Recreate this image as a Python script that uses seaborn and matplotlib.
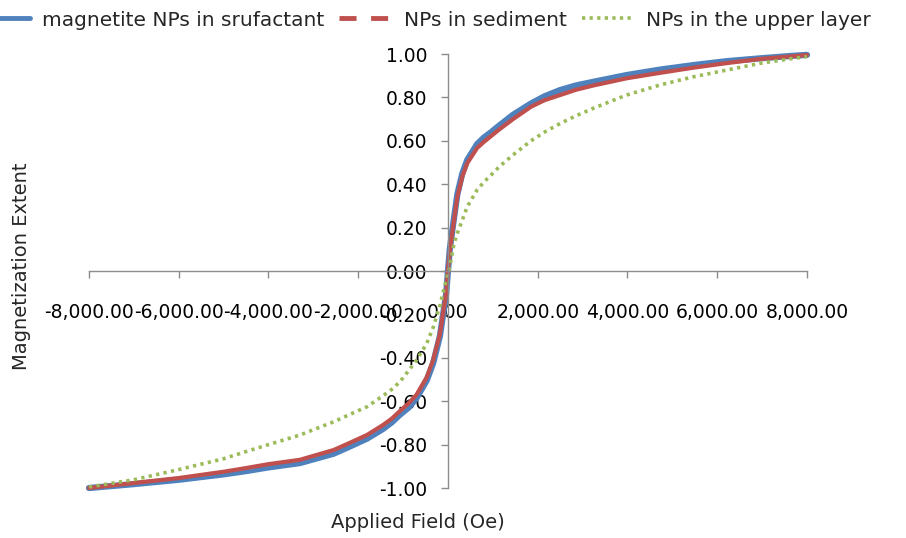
import matplotlib
matplotlib.use("Agg")
import matplotlib.pyplot as plt
import seaborn as sns
from matplotlib.lines import Line2D
from matplotlib.ticker import FuncFormatter, MultipleLocator

# applied field (Oe), shared by the three curves
field = [-8000, -7000, -6000, -5000, -4500, -4000, -3300, -2550, -2200, -1800,
         -1450, -1250, -1070, -880, -700, -475, -330, -180, -40, 0,
         40, 135, 210, 320, 430, 650, 800, 950, 1140, 1450,
         1850, 2150, 2500, 2850, 3240, 3980, 4720, 5470, 6210, 6950,
         7700, 8000]

m_surfactant = [-1.0, -0.982, -0.962, -0.937, -0.922, -0.905, -0.885, -0.842, -0.81, -0.772,
                -0.728, -0.697, -0.662, -0.63, -0.585, -0.505, -0.425, -0.30, -0.105, 0.0,
                0.10, 0.245, 0.355, 0.45, 0.512, 0.585, 0.615, 0.638, 0.67, 0.72,
                0.772, 0.805, 0.834, 0.855, 0.872, 0.903, 0.928, 0.949, 0.967, 0.98,
                0.992, 0.996]

m_sediment = [-1.0, -0.977, -0.954, -0.925, -0.908, -0.89, -0.87, -0.825, -0.793, -0.755,
              -0.71, -0.68, -0.645, -0.61, -0.57, -0.49, -0.41, -0.29, -0.10, 0.0,
              0.09, 0.235, 0.343, 0.436, 0.497, 0.567, 0.595, 0.62, 0.652, 0.70,
              0.757, 0.787, 0.811, 0.835, 0.855, 0.888, 0.913, 0.937, 0.958, 0.977,
              0.99, 0.995]

m_upper = [-0.995, -0.962, -0.915, -0.865, -0.832, -0.80, -0.756, -0.695, -0.662, -0.625,
           -0.575, -0.545, -0.51, -0.46, -0.41, -0.335, -0.26, -0.16, -0.04, -0.015,
           0.02, 0.127, 0.175, 0.235, 0.297, 0.374, 0.41, 0.44, 0.48, 0.535,
           0.60, 0.64, 0.68, 0.715, 0.75, 0.811, 0.857, 0.895, 0.926, 0.957,
           0.98, 0.988]

labels = ["magnetite NPs in srufactant", "NPs in sediment", "NPs in the upper layer"]
colors = ["#4F81BD", "#C0504D", "#9BBB59"]

sns.set_style("white")
plt.rcParams["font.family"] = ["DejaVu Sans"]

fig = plt.figure(figsize=(9.06, 5.38), dpi=100)
ax = fig.add_axes([0.0982, 0.0929, 0.7925, 0.8067])

sns.lineplot(x=field, y=m_surfactant, ax=ax, color=colors[0], lw=4.5, sort=False, legend=False)
sns.lineplot(x=field, y=m_sediment, ax=ax, color=colors[1], lw=3.0, sort=False, legend=False)
sns.lineplot(x=field, y=m_upper, ax=ax, color=colors[2], lw=2.6, sort=False, legend=False)
ax.lines[2].set_dashes((0.9, 1.2))
for ln in ax.lines:
    ln.set_clip_on(False)

ax.set_xlim(-8000, 8000)
ax.set_ylim(-1, 1)
ax.xaxis.set_major_locator(MultipleLocator(2000))
ax.yaxis.set_major_locator(MultipleLocator(0.2))
ax.xaxis.set_major_formatter(FuncFormatter(lambda v, p: f"{v:,.2f}"))
ax.yaxis.set_major_formatter(FuncFormatter(lambda v, p: f"{v:.2f}"))

grey = "#8C8C8C"
ax.spines["left"].set_position(("data", 0))
ax.spines["bottom"].set_position(("data", 0))
ax.spines["top"].set_visible(False)
ax.spines["right"].set_visible(False)
for s in ["left", "bottom"]:
    ax.spines[s].set_color(grey)
    ax.spines[s].set_linewidth(1.0)
ax.tick_params(axis="x", bottom=True, direction="out", length=5, width=1, color=grey,
               pad=18, labelsize=13.5, labelcolor="black")
ax.tick_params(axis="y", left=True, direction="out", length=5, width=1, color=grey,
               pad=10, labelsize=13.5, labelcolor="black")
ax.set_xlabel("")
ax.set_ylabel("")

fig.text(22 / 906, 1 - 266 / 538, "Magnetization Extent", rotation=90, ha="center", va="center", fontsize=14)
fig.text(418 / 906, 1 - 522 / 538, "Applied Field (Oe)", ha="center", va="center", fontsize=14)

handles = [
    Line2D([], [], color=colors[0], lw=3.5),
    Line2D([], [], color=colors[1], lw=3.5, dashes=(3.5, 3)),
    Line2D([], [], color=colors[2], lw=2.6, dashes=(0.9, 1.2)),
]
fig.legend(handles, labels, loc="center left", bbox_to_anchor=(-0.045, 1 - 20 / 538), ncol=3,
           frameon=False, fontsize=14.5, handlelength=2.6, handletextpad=0.6,
           columnspacing=0.75)

fig.savefig("out.png", dpi=100)
